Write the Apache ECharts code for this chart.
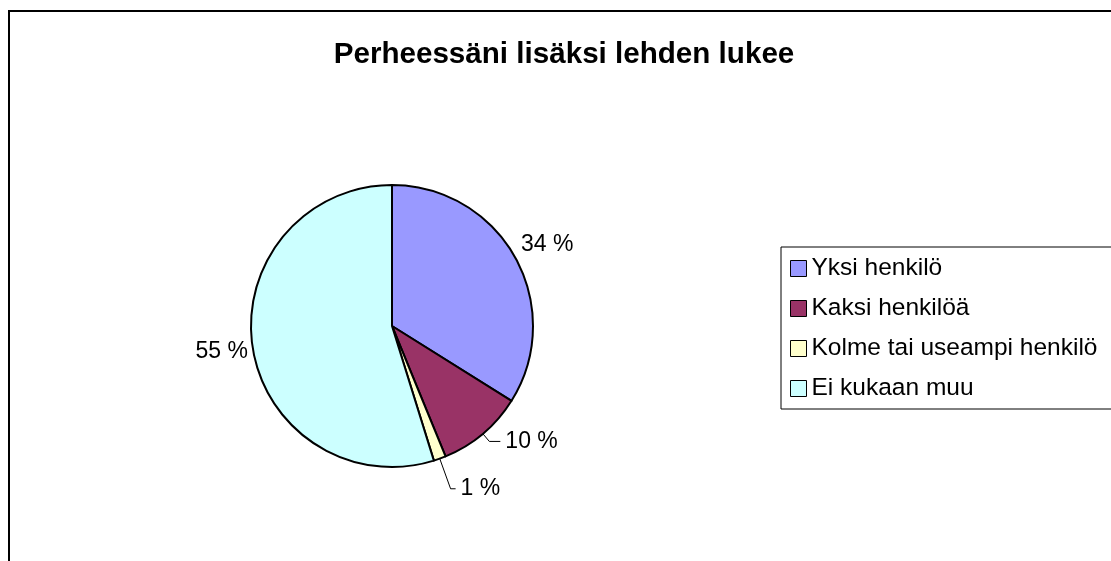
<!DOCTYPE html>
<html>
<head>
<meta charset="utf-8">
<script src="https://cdn.jsdelivr.net/npm/echarts@6/dist/echarts.min.js"></script>
<style>
html,body{margin:0;padding:0;background:#fff;}
#chart{width:1111px;height:561px;}
</style>
</head>
<body>
<div id="chart"></div>
<script>
const title = 'Perheessäni lisäksi lehden lukee';
const categories = ['Yksi henkilö', 'Kaksi henkilöä', 'Kolme tai useampi henkilö', 'Ei kukaan muu'];
const values = [33.9, 9.9, 1.4, 54.8];

const colors = ['#9999FF', '#993366', '#FFFFCC', '#CCFFFF'];
// label placement per slice (leader line lengths, visibility)
const labelLines = [
  { show: false, length: 27, length2: -23 },
  { show: true, length: 10, length2: 11 },
  { show: true, length: 32, length2: 5 },
  { show: false, length: 27, length2: -27 }
];

const FONT = '"Liberation Sans", Arial, Helvetica, sans-serif';

const chart = echarts.init(document.getElementById('chart'));
chart.setOption({
  animation: false,
  backgroundColor: '#fff',
  title: {
    text: title,
    left: 559,
    top: 50,
    textAlign: 'center',
    textVerticalAlign: 'middle',
    textStyle: { fontFamily: FONT, fontSize: 29.6, fontWeight: 'bold', color: '#000' }
  },
  graphic: [{
    type: 'rect',
    shape: { x: 9, y: 11, width: 1300, height: 700 },
    style: { fill: 'none', stroke: '#000', lineWidth: 2 },
    silent: true,
    z: 100
  }],
  legend: {
    orient: 'vertical',
    left: 781,
    top: 247,
    padding: [9, 60, 8, 9],
    itemGap: 15,
    itemWidth: 16,
    itemHeight: 16,
    icon: 'rect',
    borderColor: '#000',
    borderWidth: 1,
    itemStyle: { borderColor: '#000', borderWidth: 1 },
    textStyle: { fontFamily: FONT, fontSize: 24.5, lineHeight: 25, color: '#000' },
    data: categories
  },
  series: [{
    type: 'pie',
    center: [392, 326],
    radius: 141,
    startAngle: 90,
    clockwise: true,
    avoidLabelOverlap: false,
    minShowLabelAngle: 0,
    itemStyle: { borderColor: '#000', borderWidth: 2 },
    emphasis: { disabled: true },
    label: {
      show: true,
      position: 'outside',
      fontFamily: FONT,
      fontSize: 23,
      color: '#000',
      distanceToLabelLine: 5,
      formatter: p => Math.round(p.percent) + ' %'
    },
    labelLine: { lineStyle: { color: '#000', width: 1 } },
    data: categories.map((name, i) => ({
      name: name,
      value: values[i],
      itemStyle: { color: colors[i] },
      labelLine: labelLines[i]
    }))
  }]
});
</script>
</body>
</html>
